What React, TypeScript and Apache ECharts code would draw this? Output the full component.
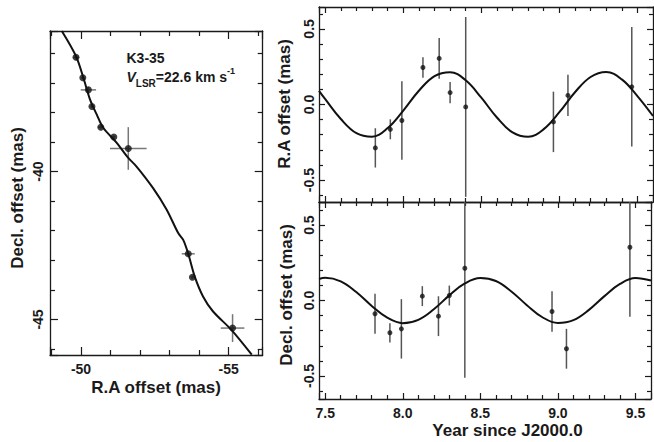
import React, { useEffect, useRef } from "react";
import * as echarts from "echarts";

// ---------- Data ----------
// Left panel: sky positions of the maser spot (mas)
const posRA = [-49.83, -50.06, -50.25, -50.37, -50.67, -51.11, -51.6, -53.63, -53.77, -55.13];
const posDec = [-36.14, -36.83, -37.24, -37.8, -38.5, -38.83, -39.22, -42.78, -43.57, -45.29];
const posErrRA = [0.1, 0.05, 0.26, 0.05, 0.1, 0.05, 0.62, 0.22, 0.05, 0.4];
const posErrDec = [0.08, 0.05, 0.1, 0.05, 0.05, 0.05, 0.72, 0.08, 0.05, 0.47];

// Left panel: fitted track
const trackRA = [-49.35, -49.83, -50.08, -50.3, -50.53, -50.75, -51.21, -51.6, -51.88, -52.44, -52.9, -53.29, -53.46, -53.63, -53.85, -54.13, -54.47, -55.09, -55.78];
const trackDec = [-35.25, -36.1, -36.83, -37.55, -38.07, -38.52, -39.03, -39.54, -39.83, -40.56, -41.29, -42.08, -42.31, -42.78, -43.55, -44.22, -44.73, -45.35, -46.19];

// Right panels: epochs (years since J2000.0)
const epochs = [7.821, 7.917, 7.991, 8.126, 8.23, 8.3, 8.4, 8.962, 9.055, 9.464];
const raOffset = [-0.287, -0.164, -0.106, 0.245, 0.305, 0.079, -0.016, -0.115, 0.06, 0.117];
const raErr = [0.13, 0.066, 0.26, 0.068, 0.135, 0.07, 0.595, 0.2, 0.136, 0.395];
const decOffset = [-0.088, -0.214, -0.188, 0.029, -0.104, 0.033, 0.214, -0.073, -0.32, 0.353];
const decErr = [0.133, 0.064, 0.197, 0.066, 0.132, 0.066, 0.726, 0.134, 0.132, 0.46];

// Right panels: parallax model curves
const modelYears = [7.46, 7.5, 7.6, 7.7, 7.8, 7.9, 8.0, 8.1, 8.2, 8.3, 8.4, 8.5, 8.6, 8.7, 8.8, 8.9, 9.0, 9.1, 9.2, 9.3, 9.4, 9.5, 9.6];
const raModel = [0.09, 0.035, -0.096, -0.19, -0.213, -0.156, -0.04, 0.091, 0.188, 0.214, 0.16, 0.045, -0.086, -0.185, -0.214, -0.163, -0.051, 0.081, 0.182, 0.215, 0.166, 0.056, -0.076];
const decModel = [0.143, 0.15, 0.127, 0.056, -0.036, -0.114, -0.15, -0.128, -0.058, 0.034, 0.113, 0.149, 0.129, 0.06, -0.031, -0.111, -0.149, -0.13, -0.062, 0.029, 0.11, 0.149, 0.132];

// Axis ranges
const leftX = [-56.15, -48.95];
const leftY = [-46.2, -35.25];
const yearRange = [7.46, 9.6];
const topY = [-0.645, 0.645];
const botY = [-0.653, 0.653];

const FONT = "'Liberation Sans', Arial, Helvetica, sans-serif";
const INK = "#1a1a1a";

function mkAxis(o: any) {
  const iv = o.interval;
  return {
    type: "value",
    gridIndex: o.grid,
    position: o.pos,
    min: o.range[0],
    max: o.range[1],
    inverse: !!o.inverse,
    splitNumber: 2,
    minInterval: iv,
    maxInterval: iv,
    axisLine: { show: true, onZero: false, lineStyle: { color: INK, width: 1.3 } },
    axisTick: { show: true, inside: true, length: o.major, lineStyle: { color: INK, width: 1.2 } },
    minorTick: { show: true, splitNumber: 5, length: o.minor, lineStyle: { color: INK, width: 1.2 } },
    splitLine: { show: false },
    minorSplitLine: { show: false },
    axisLabel: o.labels
      ? {
          show: true,
          margin: o.margin,
          rotate: o.rotate || 0,
          fontSize: 14,
          fontWeight: 700,
          fontFamily: FONT,
          color: INK,
          formatter: (v: number) => {
            const k = v / iv;
            if (Math.abs(k - Math.round(k)) > 1e-6) return "";
            return o.digits ? v.toFixed(o.digits) : String(Math.round(v));
          },
        }
      : { show: false },
  };
}

function errSeries(xi: number, yi: number, xs: number[], ys: number[], ex: number[], ey: number[], xr: number[], yr: number[], color: string) {
  const data = xs.map((x, i) => [x, ys[i], ex[i], ey[i]]);
  return {
    type: "custom",
    xAxisIndex: xi,
    yAxisIndex: yi,
    data,
    encode: { x: 0, y: 1 },
    z: 2,
    renderItem: (_p: any, api: any) => {
      const x = api.value(0), y = api.value(1), dx = api.value(2), dy = api.value(3);
      const cl = (v: number, r: number[]) => Math.max(r[0], Math.min(r[1], v));
      const children: any[] = [];
      const st = { stroke: color, lineWidth: 1.5 };
      if (dx > 0) {
        const a = api.coord([cl(x - dx, xr), y]);
        const b = api.coord([cl(x + dx, xr), y]);
        children.push({ type: "line", shape: { x1: a[0], y1: a[1], x2: b[0], y2: b[1] }, style: st });
      }
      if (dy > 0) {
        const c = api.coord([x, cl(y - dy, yr)]);
        const d = api.coord([x, cl(y + dy, yr)]);
        children.push({ type: "line", shape: { x1: c[0], y1: c[1], x2: d[0], y2: d[1] }, style: st });
      }
      return { type: "group", children };
    },
  };
}

function title(text: string, x: number, y: number, rotated: boolean) {
  return {
    type: "text",
    x,
    y,
    rotation: rotated ? Math.PI / 2 : 0,
    style: {
      text,
      fontSize: 17,
      fontWeight: "bold",
      fontFamily: FONT,
      fill: INK,
      align: "center",
      verticalAlign: "middle",
    },
  };
}

export default function App() {
  const ref = useRef<HTMLDivElement>(null);
  useEffect(() => {
    const chart = echarts.init(ref.current!, null, { renderer: "svg" });
    const option: any = {
      animation: false,
      backgroundColor: "#fff",
      grid: [
        { left: 50, top: 31, width: 212.7, height: 324 },
        { left: 319, top: 7, width: 334, height: 195 },
        { left: 319, top: 202, width: 334, height: 197 },
      ],
      xAxis: [
        mkAxis({ grid: 0, pos: "bottom", range: leftX, inverse: true, interval: 5, major: 8, minor: 5, labels: true, margin: 7 }),
        mkAxis({ grid: 0, pos: "top", range: leftX, inverse: true, interval: 5, major: 8, minor: 5 }),
        mkAxis({ grid: 1, pos: "bottom", range: yearRange, interval: 0.5, major: 6, minor: 4 }),
        mkAxis({ grid: 1, pos: "top", range: yearRange, interval: 0.5, major: 6, minor: 4 }),
        mkAxis({ grid: 2, pos: "bottom", range: yearRange, interval: 0.5, major: 6, minor: 4, labels: true, margin: 7, digits: 1 }),
        mkAxis({ grid: 2, pos: "top", range: yearRange, interval: 0.5, major: 6, minor: 4 }),
      ],
      yAxis: [
        mkAxis({ grid: 0, pos: "left", range: leftY, interval: 5, major: 8, minor: 5, labels: true, margin: 5, rotate: 90 }),
        mkAxis({ grid: 0, pos: "right", range: leftY, interval: 5, major: 8, minor: 5 }),
        mkAxis({ grid: 1, pos: "left", range: topY, interval: 0.5, major: 6, minor: 4, labels: true, margin: 3, rotate: 90, digits: 1 }),
        mkAxis({ grid: 1, pos: "right", range: topY, interval: 0.5, major: 6, minor: 4 }),
        mkAxis({ grid: 2, pos: "left", range: botY, interval: 0.5, major: 6, minor: 4, labels: true, margin: 3, rotate: 90, digits: 1 }),
        mkAxis({ grid: 2, pos: "right", range: botY, interval: 0.5, major: 6, minor: 4 }),
      ],
      series: [
        {
          type: "line",
          xAxisIndex: 0,
          yAxisIndex: 0,
          data: trackRA.map((x, i) => [x, trackDec[i]]),
          showSymbol: false,
          smooth: 0.3,
          lineStyle: { color: "#111", width: 2 },
          z: 3,
        },
        errSeries(0, 0, posRA, posDec, posErrRA, posErrDec, [leftX[0], leftX[1]], leftY, "#777"),
        {
          type: "scatter",
          xAxisIndex: 0,
          yAxisIndex: 0,
          data: posRA.map((x, i) => [x, posDec[i]]),
          symbol: "circle",
          symbolSize: 7,
          itemStyle: { color: "#111" },
          z: 4,
        },
        {
          type: "line",
          xAxisIndex: 2,
          yAxisIndex: 2,
          data: modelYears.map((t, i) => [t, raModel[i]]),
          showSymbol: false,
          smooth: 0.4,
          lineStyle: { color: "#111", width: 2 },
          z: 3,
        },
        errSeries(2, 2, epochs, raOffset, epochs.map(() => 0), raErr, yearRange, topY, "#555"),
        {
          type: "scatter",
          xAxisIndex: 2,
          yAxisIndex: 2,
          data: epochs.map((t, i) => [t, raOffset[i]]),
          symbol: "circle",
          symbolSize: 5,
          itemStyle: { color: "#111" },
          z: 4,
        },
        {
          type: "line",
          xAxisIndex: 4,
          yAxisIndex: 4,
          data: modelYears.map((t, i) => [t, decModel[i]]),
          showSymbol: false,
          smooth: 0.4,
          lineStyle: { color: "#111", width: 2 },
          z: 3,
        },
        errSeries(4, 4, epochs, decOffset, epochs.map(() => 0), decErr, yearRange, botY, "#555"),
        {
          type: "scatter",
          xAxisIndex: 4,
          yAxisIndex: 4,
          data: epochs.map((t, i) => [t, decOffset[i]]),
          symbol: "circle",
          symbolSize: 5,
          itemStyle: { color: "#111" },
          z: 4,
        },
      ],
      graphic: [
        title("Decl. offset (mas)", 17.5, 198, true),
        title("R.A offset (mas)", 156, 387.5, false),
        title("R.A offset (mas)", 284.5, 104, true),
        title("Decl. offset (mas)", 286.5, 295, true),
        title("Year since J2000.0", 507.5, 430, false),
        {
          type: "text",
          x: 126.5,
          y: 58,
          style: {
            text: "K3-35",
            fontSize: 14,
            fontWeight: "bold",
            fontFamily: FONT,
            fill: INK,
            align: "left",
            verticalAlign: "middle",
          },
        },
        {
          type: "text",
          x: 126.5,
          y: 77,
          style: {
            text: "{v|V}{s|LSR}{n|=22.6 km s}{p|-1}",
            align: "left",
            verticalAlign: "middle",
            fontFamily: FONT,
            fill: INK,
            rich: {
              v: { fontSize: 14, fontWeight: "bold", fontStyle: "italic", fontFamily: FONT, fill: INK, lineHeight: 22, verticalAlign: "middle" },
              s: { fontSize: 10, fontWeight: "bold", fontFamily: FONT, fill: INK, lineHeight: 10, verticalAlign: "bottom" },
              n: { fontSize: 14, fontWeight: "bold", fontFamily: FONT, fill: INK, lineHeight: 22, verticalAlign: "middle" },
              p: { fontSize: 9, fontWeight: "bold", fontFamily: FONT, fill: INK, lineHeight: 9, verticalAlign: "top" },
            },
          },
        },
      ],
    };
    chart.setOption(option);
    return () => chart.dispose();
  }, []);
  return (
    <div
      ref={ref}
      style={{ position: "absolute", left: 0, top: 0, width: 654, height: 442, background: "#fff" }}
    />
  );
}
